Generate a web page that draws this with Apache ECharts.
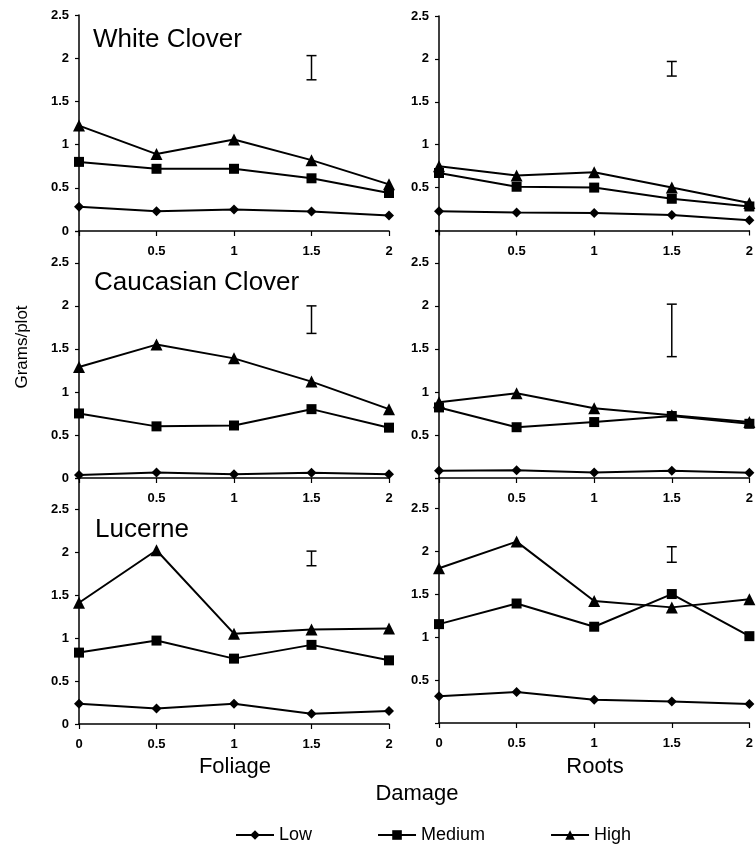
<!DOCTYPE html>
<html><head><meta charset="utf-8">
<script src="https://cdn.jsdelivr.net/npm/echarts@6/dist/echarts.min.js"></script>
<style>html,body{margin:0;padding:0;background:#fff}#c{width:756px;height:845px}</style>
</head><body><div id="c"></div>
<script>
const damage = [0, 0.5, 1, 1.5, 2];
const levels = ['Low', 'Medium', 'High'];
const panelTitles = ['White Clover', '', 'Caucasian Clover', '', 'Lucerne', ''];

const wcFoliageLow = [0.28, 0.23, 0.25, 0.225, 0.18];
const wcFoliageMedium = [0.80, 0.72, 0.72, 0.61, 0.44];
const wcFoliageHigh = [1.22, 0.89, 1.06, 0.82, 0.54];
const wcRootsLow = [0.225, 0.21, 0.205, 0.18, 0.12];
const wcRootsMedium = [0.67, 0.51, 0.50, 0.37, 0.28];
const wcRootsHigh = [0.75, 0.64, 0.68, 0.50, 0.32];
const ccFoliageLow = [0.035, 0.065, 0.045, 0.06, 0.045];
const ccFoliageMedium = [0.75, 0.60, 0.61, 0.80, 0.585];
const ccFoliageHigh = [1.29, 1.55, 1.39, 1.12, 0.80];
const ccRootsLow = [0.085, 0.09, 0.065, 0.085, 0.06];
const ccRootsMedium = [0.82, 0.59, 0.65, 0.72, 0.63];
const ccRootsHigh = [0.88, 0.985, 0.81, 0.73, 0.65];
const luFoliageLow = [0.235, 0.18, 0.235, 0.12, 0.15];
const luFoliageMedium = [0.83, 0.97, 0.76, 0.92, 0.74];
const luFoliageHigh = [1.41, 2.02, 1.05, 1.10, 1.11];
const luRootsLow = [0.31, 0.36, 0.27, 0.25, 0.22];
const luRootsMedium = [1.15, 1.39, 1.12, 1.50, 1.01];
const luRootsHigh = [1.80, 2.11, 1.42, 1.345, 1.44];

// error bars: [damage, low, high]
const errWcFoliage = [1.5, 1.75, 2.03];
const errWcRoots = [1.5, 1.80, 1.97];
const errCcFoliage = [1.5, 1.68, 2.00];
const errCcRoots = [1.5, 1.41, 2.02];
const errLuFoliage = [1.5, 1.84, 2.01];
const errLuRoots = [1.5, 1.87, 2.05];

const panels = [
  [wcFoliageLow, wcFoliageMedium, wcFoliageHigh, errWcFoliage],
  [wcRootsLow, wcRootsMedium, wcRootsHigh, errWcRoots],
  [ccFoliageLow, ccFoliageMedium, ccFoliageHigh, errCcFoliage],
  [ccRootsLow, ccRootsMedium, ccRootsHigh, errCcRoots],
  [luFoliageLow, luFoliageMedium, luFoliageHigh, errLuFoliage],
  [luRootsLow, luRootsMedium, luRootsHigh, errLuRoots]
];

const FONT = "'Liberation Sans', Arial, Helvetica, sans-serif";
const grids = [
  {left: 79, top: 15, width: 310, height: 216},
  {left: 439, top: 16, width: 312, height: 214.5},
  {left: 79, top: 231, width: 310, height: 247},
  {left: 439, top: 231, width: 312, height: 247},
  {left: 79, top: 478, width: 310, height: 246},
  {left: 439, top: 478, width: 312, height: 245}
];
const yMaxes = [2.5, 2.5, 2.87, 2.87, 2.86, 2.85];
const symbols = ['diamond', 'rect', 'triangle'];
const symSizes = [10, 10, 12];

const xAxes = [], yAxes = [], series = [];
grids.forEach((g, i) => {
  const isBottom = i >= 4, isRight = i % 2 === 1;
  xAxes.push({
    type: 'value', gridIndex: i, min: 0, max: 2, interval: 0.5,
    axisLine: {lineStyle: {color: '#000', width: 1.5}},
    axisTick: {show: true, inside: false, length: 5, lineStyle: {color: '#000', width: 1.2}},
    splitLine: {show: false},
    axisLabel: {
      margin: 14, color: '#000', fontSize: 13, fontWeight: 'bold', fontFamily: FONT,
      formatter: v => (v === 0 && !isBottom) ? '' : String(v)
    }
  });
  yAxes.push({
    type: 'value', gridIndex: i, min: 0, max: yMaxes[i], interval: 0.5,
    axisLine: {show: true, lineStyle: {color: '#000', width: 1.5}},
    axisTick: {show: true, inside: false, length: 4, lineStyle: {color: '#000', width: 1.2}},
    splitLine: {show: false},
    axisLabel: {
      margin: 10, color: '#000', fontSize: 13, fontWeight: 'bold', fontFamily: FONT,
      formatter: v => {
        if (Math.abs(v * 2 - Math.round(v * 2)) > 1e-6) return '';
        if (v === 0 && isRight) return '';
        return String(v);
      }
    }
  });
  const p = panels[i];
  for (let k = 0; k < 3; k++) {
    series.push({
      type: 'line', name: levels[k], xAxisIndex: i, yAxisIndex: i,
      data: damage.map((d, j) => [d, p[k][j]]),
      symbol: symbols[k], symbolSize: symSizes[k], clip: false,
      lineStyle: {color: '#000', width: 2},
      itemStyle: {color: '#000'},
      silent: true
    });
  }
  series.push({
    type: 'custom', xAxisIndex: i, yAxisIndex: i, silent: true, clip: false,
    data: [p[3]],
    renderItem: (params, api) => {
      const lo = api.coord([api.value(0), api.value(1)]);
      const hi = api.coord([api.value(0), api.value(2)]);
      const st = {stroke: '#000', lineWidth: 1.5};
      return {type: 'group', children: [
        {type: 'line', shape: {x1: lo[0], y1: lo[1], x2: hi[0], y2: hi[1]}, style: st},
        {type: 'line', shape: {x1: lo[0] - 5, y1: lo[1], x2: lo[0] + 5, y2: lo[1]}, style: st},
        {type: 'line', shape: {x1: hi[0] - 5, y1: hi[1], x2: hi[0] + 5, y2: hi[1]}, style: st}
      ]};
    }
  });
});

const titleTops = [27, 0, 270, 0, 517, 0];
const titleLefts = [93, 0, 94, 0, 95, 0];
const titles = [];
panelTitles.forEach((t, i) => {
  if (!t) return;
  titles.push({text: t, left: titleLefts[i], top: titleTops[i], padding: 0,
    textStyle: {fontSize: 26, fontWeight: 'normal', color: '#000', fontFamily: FONT}});
});

const chart = echarts.init(document.getElementById('c'));
chart.setOption({
  animation: false,
  backgroundColor: '#fff',
  title: titles,
  grid: grids,
  xAxis: xAxes,
  yAxis: yAxes,
  series: series,
  legend: {
    data: levels, left: 230, top: 821, itemWidth: 38, itemHeight: 12, itemGap: 65,
    selectedMode: false,
    textStyle: {fontSize: 18, color: '#000', fontFamily: FONT}
  },
  graphic: [
    {type: 'text', x: 235, y: 767, style: {text: 'Foliage', fontSize: 22, fontFamily: FONT, fill: '#000', textAlign: 'center', textVerticalAlign: 'middle'}},
    {type: 'text', x: 595, y: 767, style: {text: 'Roots', fontSize: 22, fontFamily: FONT, fill: '#000', textAlign: 'center', textVerticalAlign: 'middle'}},
    {type: 'text', x: 417, y: 794, style: {text: 'Damage', fontSize: 22, fontFamily: FONT, fill: '#000', textAlign: 'center', textVerticalAlign: 'middle'}},
    {type: 'text', x: 22, y: 347, rotation: Math.PI / 2, style: {text: 'Grams/plot', fontSize: 17, fontFamily: FONT, fill: '#000', textAlign: 'center', textVerticalAlign: 'middle'}}
  ]
});
</script></body></html>
